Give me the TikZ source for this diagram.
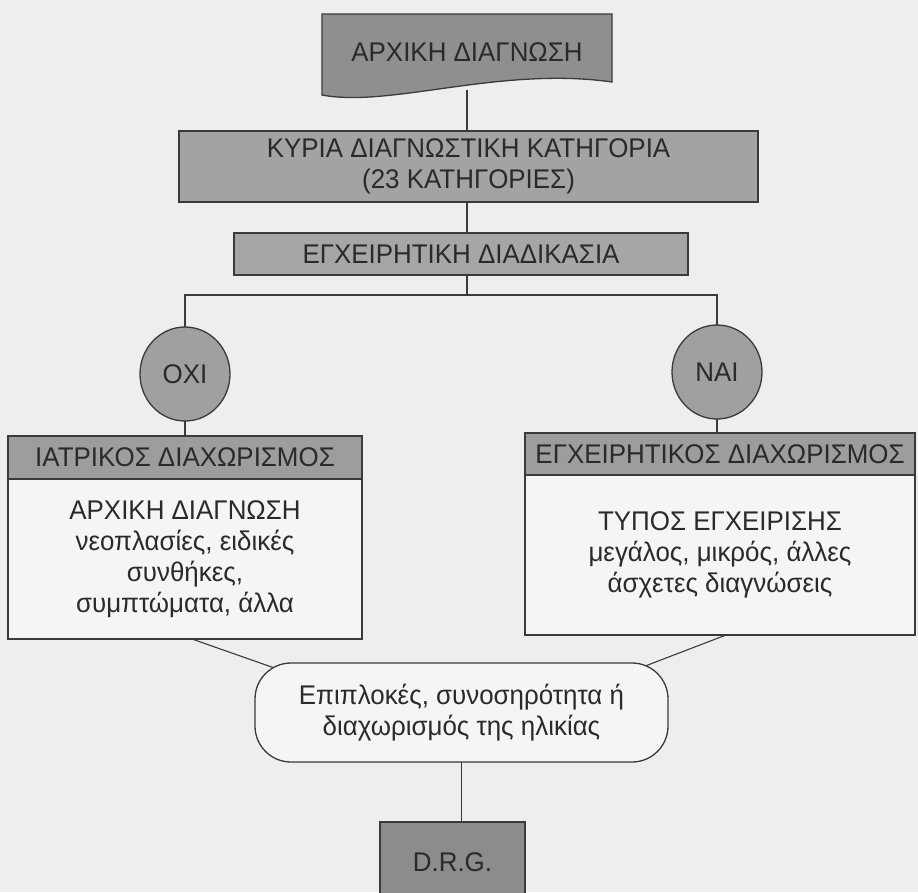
\documentclass[tikz,border=0pt]{standalone}
\usepackage{fontspec}
\setmainfont{Liberation Sans}[FakeStretch=0.96]
\usetikzlibrary{shapes.geometric,calc}
\pgfdeclarelayer{back}
\pgfdeclarelayer{bg}
\pgfdeclarelayer{mid}
\pgfsetlayers{back,bg,mid,main}
\definecolor{bgc}{HTML}{EEEEEE}
\definecolor{bodyc}{HTML}{F5F5F5}
\definecolor{linec}{HTML}{3A3A3A}
\definecolor{txtc}{HTML}{2A2A2A}
\definecolor{gtop}{HTML}{8F8F8F}
\definecolor{gkyr}{HTML}{A3A3A3}
\definecolor{gegx}{HTML}{A6A6A6}
\definecolor{ghdr}{HTML}{9D9D9D}
\definecolor{gcirc}{HTML}{A0A0A0}
\definecolor{gdrg}{HTML}{8C8C8C}
\begin{document}
\begin{tikzpicture}[x=1pt,y=1pt,
  every node/.style={font=\fontsize{27}{31}\selectfont, text=txtc, inner sep=0pt, outer sep=0pt, align=center},
  boxstyle/.style={draw=linec, line width=1.3pt, rectangle},
  hdrstyle/.style={boxstyle, fill=ghdr},
  bodystyle/.style={boxstyle, fill=bodyc},
  circstyle/.style={ellipse, draw=linec, line width=1.3pt, fill=gcirc, minimum width=90pt, minimum height=94pt},
  conn/.style={draw=linec, line width=1.1pt}]
\useasboundingbox (0,0) rectangle (918,-892);
\begin{pgfonlayer}{back}
\fill[bgc] (0,0) rectangle (918,-892);
\end{pgfonlayer}

% top document shape
\node[minimum width=290pt, minimum height=76pt] (tb) at (467,-52) {ΑΡΧΙΚΗ ΔΙΑΓΝΩΣΗ};
\begin{pgfonlayer}{mid}
\draw[draw=linec, line width=1.3pt, fill=gtop] (tb.north west) -- (tb.north east) -- (612,-82)
  .. controls (500,-66) and (390,-108) .. (322,-95) -- cycle;
\end{pgfonlayer}

\node[boxstyle, fill=gkyr, minimum width=579pt, minimum height=71pt] (k) at (468.5,-166.5)
  {ΚΥΡΙΑ ΔΙΑΓΝΩΣΤΙΚΗ ΚΑΤΗΓΟΡΙΑ\\(23 ΚΑΤΗΓΟΡΙΕΣ)};
\node[boxstyle, fill=gegx, minimum width=454pt, minimum height=42pt] (e) at (461,-254)
  {ΕΓΧΕΙΡΗΤΙΚΗ ΔΙΑΔΙΚΑΣΙΑ};
\coordinate (br) at (467,-295);

\node[circstyle] (oxi) at (185,-374) {ΟΧΙ};
\node[circstyle] (nai) at (717,-372) {ΝΑΙ};

\node[hdrstyle, minimum width=354pt, minimum height=43pt] (lh) at (185,-457.5) {ΙΑΤΡΙΚΟΣ ΔΙΑΧΩΡΙΣΜΟΣ};
\node[bodystyle, minimum width=354pt, minimum height=160pt, anchor=north] (lb) at (lh.south)
  {ΑΡΧΙΚΗ ΔΙΑΓΝΩΣΗ\\νεοπλασίες, ειδικές\\συνθήκες,\\συμπτώματα, άλλα};

\node[hdrstyle, minimum width=390pt, minimum height=42pt] (rh) at (720,-454) {ΕΓΧΕΙΡΗΤΙΚΟΣ ΔΙΑΧΩΡΙΣΜΟΣ};
\node[bodystyle, minimum width=390pt, minimum height=160pt, anchor=north] (rb) at (rh.south)
  {ΤΥΠΟΣ ΕΓΧΕΙΡΙΣΗΣ\\μεγάλος, μικρός, άλλες\\άσχετες διαγνώσεις};

\node[draw=linec, line width=1.3pt, fill=bodyc, rounded corners=36pt, minimum width=413pt, minimum height=99pt] (st) at (461.5,-712.5)
  {Επιπλοκές, συνοσηρότητα ή\\διαχωρισμός της ηλικίας};

\node[boxstyle, fill=gdrg, minimum width=145pt, minimum height=80pt, anchor=north] (d) at (452.5,-822) {D.R.G.};

\begin{pgfonlayer}{bg}
\draw[conn] (tb.south) -- (tb.south |- k.north);
\draw[conn] (tb.south |- k.south) -- (tb.south |- e.north);
\draw[conn] (tb.south |- e.south) -- (br);
\draw[conn] (oxi.north) -- (oxi.north |- br) -- (nai.north |- br) -- (nai.north);
\draw[conn] (oxi.south) -- (oxi.south |- lh.north);
\draw[conn] (nai.south) -- (nai.south |- rh.north);
\draw[conn] ([xshift=7pt]lb.south) -- ($(st.north west)+(28pt,-8pt)$);
\draw[conn] ([xshift=6pt]rb.south) -- ($(st.north east)+(-28pt,-5pt)$);
\draw[conn] (st.south) -- (st.south |- d.north);
\end{pgfonlayer}
\end{tikzpicture}
\end{document}
